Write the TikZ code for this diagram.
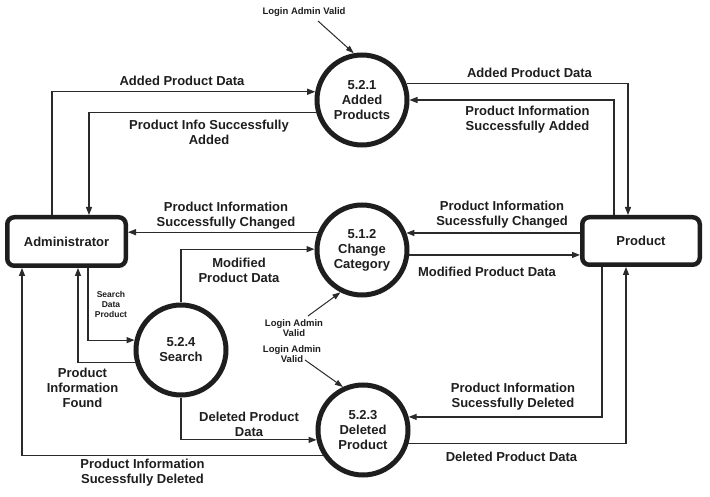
\documentclass[tikz,border=0pt]{standalone}
\usepackage{fontspec}
\setmainfont{Liberation Sans}
\usetikzlibrary{arrows.meta}
\definecolor{ink}{HTML}{1E1E1E}
\definecolor{wire}{HTML}{2A2A2A}
\begin{document}
\begin{tikzpicture}[x=1pt,y=-1pt,
  every node/.style={font=\bfseries\fontsize{13}{15}\selectfont, text=ink, align=center, inner sep=0pt},
  proc/.style={circle, draw=ink, line width=5pt, minimum size=90pt},
  ent/.style={rectangle, rounded corners=7pt, draw=ink, line width=4.5pt},
  flow/.style={draw=wire, line width=1.2pt, -{Triangle[length=8pt,width=6pt]}},
  loginarrow/.style={draw=wire, line width=1pt, -{Triangle[length=8pt,width=5.5pt]}},
  smalltext/.style={font=\bfseries\fontsize{9.5}{10}\selectfont},
  tinytext/.style={font=\bfseries\fontsize{8.5}{10}\selectfont},
]
\useasboundingbox[fill=white] (0,0) rectangle (710,497);

% entities
\node[ent, minimum width=118.5pt, minimum height=48.5pt] (adm) at (66.5,241.5) {Administrator};
\node[ent, minimum width=117.5pt, minimum height=47.5pt] (prd) at (641,241) {Product};

% processes
\node[proc] (p521) at (362,100) {5.2.1\\Added\\Products};
\node[proc] (p512) at (362,250) {5.1.2\\Change\\Category};
\node[proc] (p524) at (181,350) {5.2.4\\Search};
\node[proc] (p523) at (363,430) {5.2.3\\Deleted\\Product};

% login labels
\node[smalltext] (lg1) at (304,12) {Login Admin Valid};
\node[smalltext] (lg2) at (294,328) {Login Admin\\Valid};
\node[smalltext] (lg3) at (292,354) {Login Admin\\Valid};
\coordinate (c1) at (318,21);
\coordinate (c2) at (308,316);
\coordinate (c3) at (305,360);
\draw[loginarrow] (c1) -- (p521.100);
\draw[loginarrow] (c2) -- (p512.243);
\draw[loginarrow] (c3) -- (p523.115);

% flows
\draw[flow] (adm.north -| 52,0) |- (p521.170);
\draw[flow] (p521.195) -| (adm.north -| 89,0);
\draw[flow] (p521.20) -| (prd.north -| 628,0);
\draw[flow] (prd.north -| 614,0) |- (p521.0);
\draw[flow] (p512.158) -- (adm.east |- p512.158);
\draw[flow] (prd.west |- p512.21) -- (p512.21);
\draw[flow] (p512.354) -- (prd.west |- p512.354);
\draw[flow] (p524.north) |- (p512.179);
\draw[flow] (adm.south -| 88,0) |- (p524.168);
\draw[flow] (p524.195) -| (adm.south -| 78,0);
\draw[flow] (p524.south) |- (p523.192);
\draw[flow] (p523.212) -| (adm.south -| 22,0);
\draw[flow] (prd.south -| 602,0) |- (p523.16);
\draw[flow] (p523.343) -| (prd.south -| 626,0);

% flow labels
\node (t1) at (182,81) {Added Product Data};
\node (t2) at (209,132) {Product Info Successfully\\Added};
\node (t3) at (529.5,73) {Added Product Data};
\node (t4) at (527.5,120) {Product Information\\Successfully Added};
\node (t5) at (226,216) {Product Information\\Successfully Changed};
\node (t6) at (502,214.5) {Product Information\\Sucessfully Changed};
\node (t7) at (487,272) {Modified Product Data};
\node (t8) at (239,270) {Modified\\Product Data};
\node[tinytext] (t9) at (111,304) {Search\\Data\\Product};
\node (t10) at (82.5,388) {Product\\Information\\Found};
\node (t11) at (249,424) {Deleted Product\\Data};
\node (t12) at (142.5,473) {Product Information\\Sucessfully Deleted};
\node (t13) at (513,397) {Product Information\\Sucessfully Deleted};
\node (t14) at (511.5,456.5) {Deleted Product Data};
\end{tikzpicture}
\end{document}
